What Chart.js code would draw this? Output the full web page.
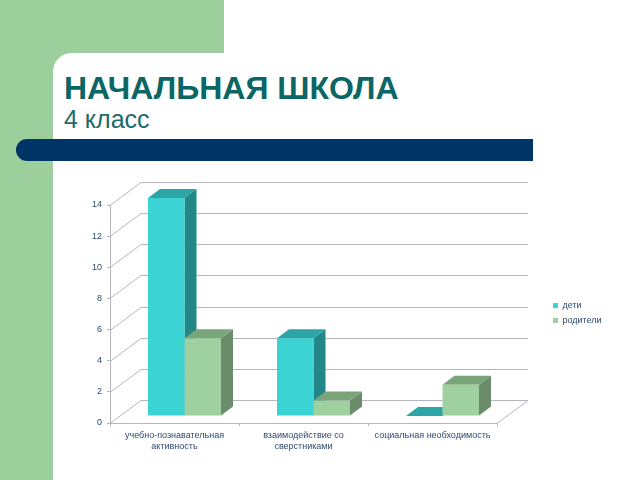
<!DOCTYPE html>
<html lang="ru">
<head>
<meta charset="utf-8">
<script src="https://cdn.jsdelivr.net/npm/chart.js@4"></script>
<style>
html, body { margin: 0; padding: 0; background: #fff; overflow: hidden; }
#slide { position: relative; width: 640px; height: 480px; overflow: hidden; font-family: "Liberation Sans", Arial, sans-serif; }
#slide div { position: absolute; }
#greenTop { left: 0; top: 0; width: 224px; height: 53px; background: #9ccf9b; }
#greenLeft { left: 0; top: 53px; width: 53px; height: 427px; background: #9ccf9b; }
#corner { left: 53px; top: 53px; width: 18px; height: 18px; background: radial-gradient(circle at 18px 18px, #fff 17.5px, #9ccf9b 18px); }
#bar { left: 16px; top: 139px; width: 517px; height: 22px; background: #003366; border-radius: 11px 0 0 11px; }
#title { left: 64px; top: 70px; font-size: 32px; font-weight: bold; color: #0b6666; white-space: nowrap; }
#subtitle { left: 64px; top: 105px; font-size: 25px; color: #1a6b6b; white-space: nowrap; }
canvas { position: absolute; left: 0; top: 0; }
</style>
</head>
<body>
<div id="slide">
  <div id="greenTop"></div>
  <div id="greenLeft"></div>
  <div id="corner"></div>
  <div id="bar"></div>
  <div id="title">НАЧАЛЬНАЯ ШКОЛА</div>
  <div id="subtitle">4 класс</div>
  <canvas id="chart" width="640" height="480"></canvas>
</div>
<script>
const categories = [
    ['учебно-познавательная', 'активность'],
    ['взаимодействие со', 'сверстниками'],
    'социальная необходимость'
];
const deti = [14, 5, 0];
const roditeli = [5, 1, 2];
const yTicks = [0, 2, 4, 6, 8, 10, 12, 14];

// fake 3D: back wall offset, bar plane offset, bar depth
const wall = { dx: 31, dy: -23 };
const plane = { dx: 10, dy: -7 };
const depth = { dx: 12, dy: -9 };
const gridColor = '#b6b6be';
const textColor = '#2f4a70';

function face(ctx, color, pts) {
    ctx.fillStyle = color;
    ctx.beginPath();
    pts.forEach((p, i) => i ? ctx.lineTo(p[0], p[1]) : ctx.moveTo(p[0], p[1]));
    ctx.closePath();
    ctx.fill();
}

const box3d = {
    id: 'box3d',
    afterLayout(chart) {
        // put the legend where it sits on the slide
        const lg = chart.legend;
        lg.left = 547;
        lg.right = lg.left + lg.width;
        lg.top = 295;
        lg.bottom = lg.top + lg.height;
    },
    beforeDatasetsDraw(chart) {
        const { ctx, chartArea: a, scales: { y } } = chart;
        ctx.save();
        ctx.strokeStyle = gridColor;
        ctx.lineWidth = 1;
        ctx.beginPath();
        yTicks.forEach(v => {
            const py = Math.round(y.getPixelForValue(v)) + 0.5;
            ctx.moveTo(a.left, py);
            ctx.lineTo(a.left + wall.dx, py + wall.dy);
            ctx.lineTo(a.right + wall.dx, py + wall.dy);
        });
        const by = Math.round(y.getPixelForValue(0)) + 0.5;
        ctx.moveTo(a.right, by);
        ctx.lineTo(a.right + wall.dx, by + wall.dy);
        ctx.stroke();
        ctx.translate(plane.dx, plane.dy);
        // side and top faces go first, left series under right series, fronts follow natively
        chart.data.datasets.forEach((ds, i) => {
            chart.getDatasetMeta(i).data.forEach(b => {
                const l = b.x - b.width / 2, r = b.x + b.width / 2;
                face(ctx, ds.sideColor, [[r, b.y], [r + depth.dx, b.y + depth.dy], [r + depth.dx, b.base + depth.dy], [r, b.base]]);
                face(ctx, ds.topColor, [[l, b.y], [l + depth.dx, b.y + depth.dy], [r + depth.dx, b.y + depth.dy], [r, b.y]]);
            });
        });
    },
    afterDatasetsDraw(chart) {
        chart.ctx.restore();
    }
};

new Chart(document.getElementById('chart').getContext('2d'), {
    type: 'bar',
    data: {
        labels: categories,
        datasets: [
            { label: 'дети', data: deti, backgroundColor: '#3bd3d3', topColor: '#2ba5a5', sideColor: '#238787', clip: false },
            { label: 'родители', data: roditeli, backgroundColor: '#9fd09f', topColor: '#7aa47a', sideColor: '#6a8c6a', clip: false }
        ]
    },
    plugins: [box3d],
    options: {
        responsive: false,
        animation: false,
        categoryPercentage: 0.566,
        barPercentage: 1,
        layout: { padding: { left: 0, top: 205, right: 143, bottom: 0 } },
        plugins: {
            tooltip: { enabled: false },
            legend: {
                position: 'chartArea',
                align: 'start',
                labels: { boxWidth: 5, boxHeight: 5, padding: 6, color: textColor, font: { family: 'Liberation Sans', size: 9 } }
            }
        },
        scales: {
            x: {
                afterFit: s => { s.height = 57; },
                grid: { drawOnChartArea: false, tickLength: 3, color: gridColor },
                border: { color: gridColor },
                ticks: { color: textColor, maxRotation: 0, autoSkip: false, padding: 4, font: { family: 'Liberation Sans', size: 9 } }
            },
            y: {
                min: 0,
                max: 14,
                afterFit: s => { s.width = 110; },
                grid: { drawOnChartArea: false, tickLength: 3, color: gridColor },
                border: { color: gridColor },
                ticks: { stepSize: 2, color: textColor, padding: 5, font: { family: 'Liberation Sans', size: 9 } }
            }
        }
    }
});
</script>
</body>
</html>
